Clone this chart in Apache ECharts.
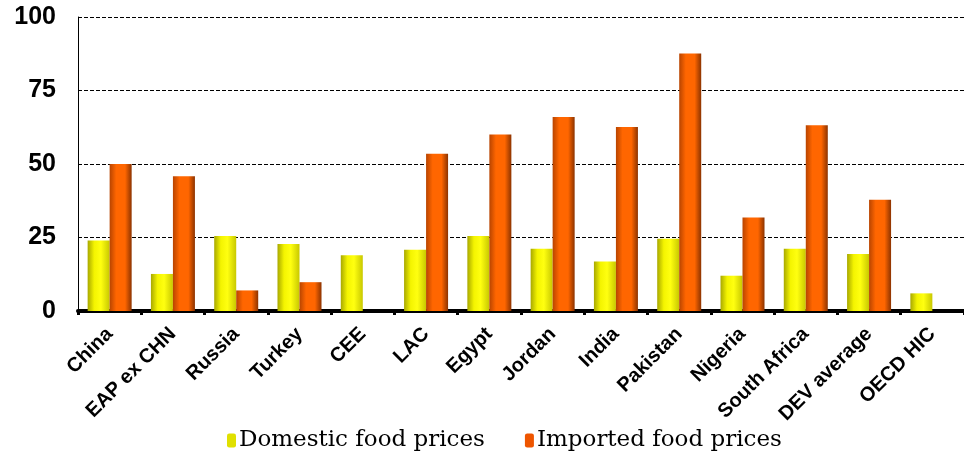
<!DOCTYPE html>
<html>
<head>
<meta charset="utf-8">
<script src="https://cdn.jsdelivr.net/npm/echarts@6/dist/echarts.min.js"></script>
<style>
  html, body { margin: 0; padding: 0; background: #ffffff; }
  #chart { width: 964px; height: 464px; }
</style>
</head>
<body>
<div id="chart"></div>
<script>
var categories = ["China", "EAP ex CHN", "Russia", "Turkey", "CEE", "LAC", "Egypt", "Jordan", "India", "Pakistan", "Nigeria", "South Africa", "DEV average", "OECD HIC"];
var domesticPrices = [24, 12.6, 25.5, 22.8, 19, 20.8, 25.5, 21.2, 16.8, 24.6, 12, 21.2, 19.4, 6];
var importedPrices = [50, 45.8, 7, 9.8, null, 53.5, 60, 66, 62.6, 87.6, 31.8, 63.2, 37.8, null];
var yTicks = [0, 25, 50, 75, 100];
var seriesNames = ["Domestic food prices", "Imported food prices"];

var yellowFill = new echarts.graphic.LinearGradient(0, 0, 1, 0, [
  { offset: 0, color: '#a8a800' },
  { offset: 0.3, color: '#f4f400' },
  { offset: 0.6, color: '#ffff10' },
  { offset: 1, color: '#c8c800' }
]);
var orangeFill = new echarts.graphic.LinearGradient(0, 0, 1, 0, [
  { offset: 0, color: '#b84400' },
  { offset: 0.3, color: '#ff6600' },
  { offset: 0.7, color: '#ff6600' },
  { offset: 1, color: '#8c3300' }
]);

var chart = echarts.init(document.getElementById('chart'), null, { renderer: 'canvas' });
chart.setOption({
  animation: false,
  backgroundColor: '#ffffff',
  grid: { left: 78, top: 17, right: -13, bottom: 153, containLabel: false },
  legend: {
    bottom: 7,
    left: 222,
    itemWidth: 9,
    itemHeight: 14,
    itemGap: 40,
    textStyle: { fontFamily: 'DejaVu Serif', fontSize: 23, color: '#000000', padding: [0, 0, 0, -2] },
    data: [
      { name: seriesNames[0], itemStyle: { color: '#e0e000' } },
      { name: seriesNames[1], itemStyle: { color: '#ee5500' } }
    ]
  },
  xAxis: {
    type: 'category',
    data: categories,
    boundaryGap: true,
    axisLine: { show: true, lineStyle: { color: '#000000', width: 4 } },
    axisTick: { show: true, length: 4, lineStyle: { color: '#000000', width: 3 } },
    axisLabel: {
      interval: 0,
      rotate: 45,
      margin: 20,
      fontFamily: 'Arial, Liberation Sans',
      fontWeight: 'bold',
      fontSize: 20,
      color: '#000000'
    },
    splitLine: { show: false }
  },
  yAxis: {
    type: 'value',
    min: yTicks[0],
    max: yTicks[yTicks.length - 1],
    interval: 25,
    axisLine: { show: true, lineStyle: { color: '#000000', width: 1 } },
    axisTick: { show: false },
    axisLabel: {
      margin: 22,
      fontFamily: 'Arial, Liberation Sans',
      fontWeight: 'bold',
      fontSize: 25,
      color: '#000000'
    },
    splitLine: { show: true, lineStyle: { color: '#000000', type: [4, 2], width: 1 } }
  },
  series: [
    {
      name: seriesNames[0],
      type: 'bar',
      data: domesticPrices,
      barWidth: 22,
      barGap: '0%',
      itemStyle: { color: yellowFill }
    },
    {
      name: seriesNames[1],
      type: 'bar',
      data: importedPrices,
      barWidth: 22,
      barGap: '0%',
      itemStyle: { color: orangeFill }
    }
  ]
});
</script>
</body>
</html>
